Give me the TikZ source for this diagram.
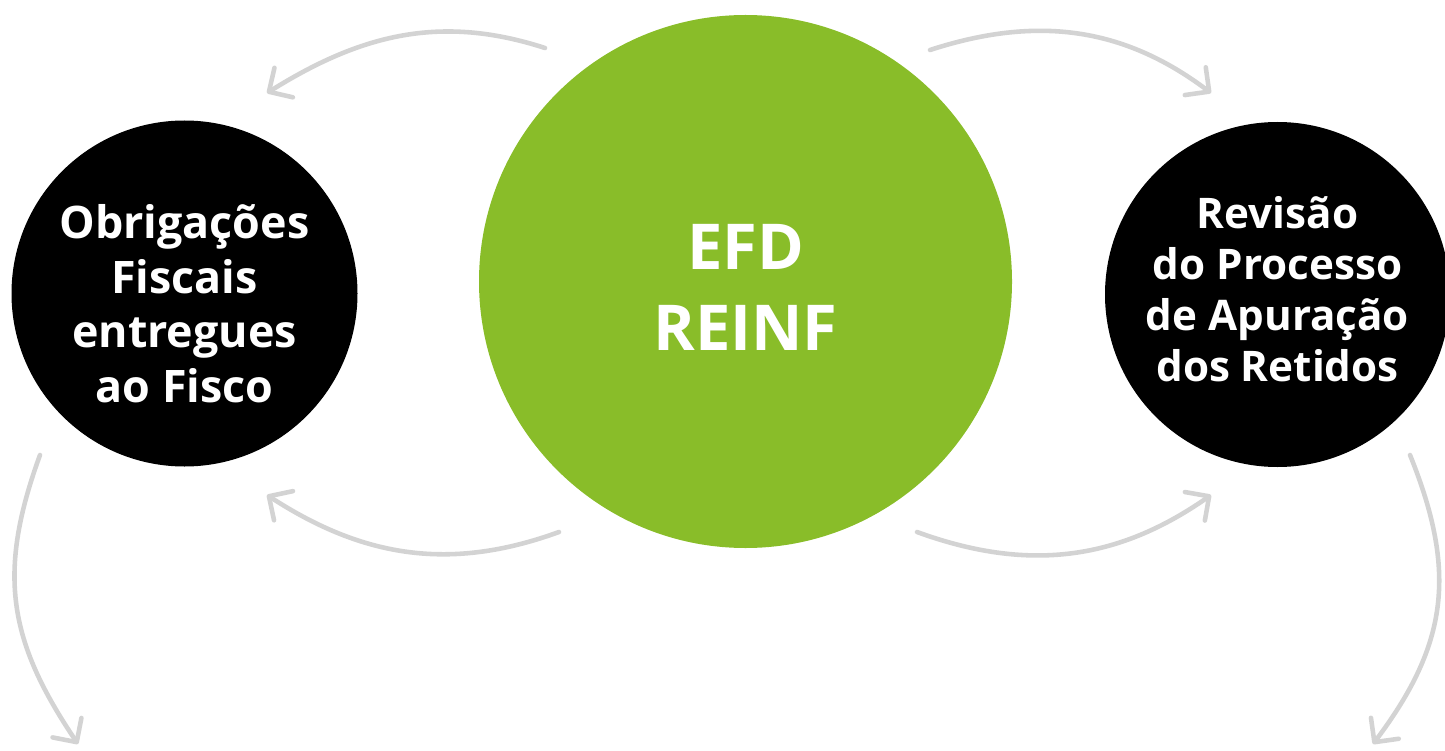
\documentclass[tikz,border=0pt]{standalone}
\usepackage{fontspec}
\setmainfont{Open Sans}
\usetikzlibrary{arrows.meta}
\definecolor{verde}{RGB}{137,189,41}
\definecolor{grigio}{RGB}{211,211,211}
\tikzstyle{ciclo}=[
    bolla/.style={circle,inner sep=0pt,text=white,align=center},
    bolla nera/.style={bolla,fill=black,minimum size=6.92cm},
    bolla verde/.style={bolla,fill=verde,minimum size=10.66cm,
        font={\bfseries\fontsize{36}{46.5}\selectfont}},
    freccia/.style={grigio,line width=2.6pt,line cap=round,
        -{Straight Barb[angle=90:14pt,line cap=round,line join=round]}},
]

\begin{document}
\begin{tikzpicture}[ciclo]
    \useasboundingbox (0,0) rectangle (28.9,15);

    \node[bolla verde] (efd) at (14.91,9.37) {};
    \node[white,align=center,font={\bfseries\fontsize{36}{46.5}\selectfont}] (efdtesto) at (14.91,9.25) {EFD\\REINF};
    \node[bolla nera] (obrig) at (3.69,9.13) {};
    \node[white,align=center,font={\bfseries\fontsize{25.5}{31}\selectfont}] (obrigtesto) at (3.69,8.93)
        {Obrigações\\Fiscais\\entregues\\ao Fisco};
    \node[bolla nera,minimum size=6.9cm] (revis) at (25.55,9.11) {};
    \node[white,align=center,font={\bfseries\fontsize{24}{29}\selectfont}] (revistesto) at (25.55,9.21)
        {Revisão\\do Processo\\de Apuração\\dos Retidos};

    \coordinate (efdNO) at (10.90,14.04);
    \coordinate (efdNE) at (18.60,14.00);
    \coordinate (efdSO) at (11.18,4.36);
    \coordinate (efdSE) at (18.34,4.36);
    \coordinate (obrigN) at (5.34,13.14);
    \coordinate (obrigS) at (5.34,5.10);
    \coordinate (obrigB) at (0.80,5.90);
    \coordinate (revisN) at (24.22,13.14);
    \coordinate (revisS) at (24.22,5.10);
    \coordinate (revisB) at (28.20,5.90);
    \coordinate (fondoO) at (1.56,0.12);
    \coordinate (fondoE) at (27.46,0.12);

    \draw[freccia] (efdNO) to[out=162,in=32] (obrigN);
    \draw[freccia] (efdNE) to[out=18,in=143] (revisN);
    \draw[freccia] (efdSO) to[out=200,in=-33] (obrigS);
    \draw[freccia] (efdSE) to[out=-20,in=215] (revisS);
    \draw[freccia] (obrigB) to[out=250,in=124,looseness=1.1] (fondoO);
    \draw[freccia] (revisB) to[out=-68,in=53,looseness=1.1] (fondoE);

\end{tikzpicture}
\end{document}
